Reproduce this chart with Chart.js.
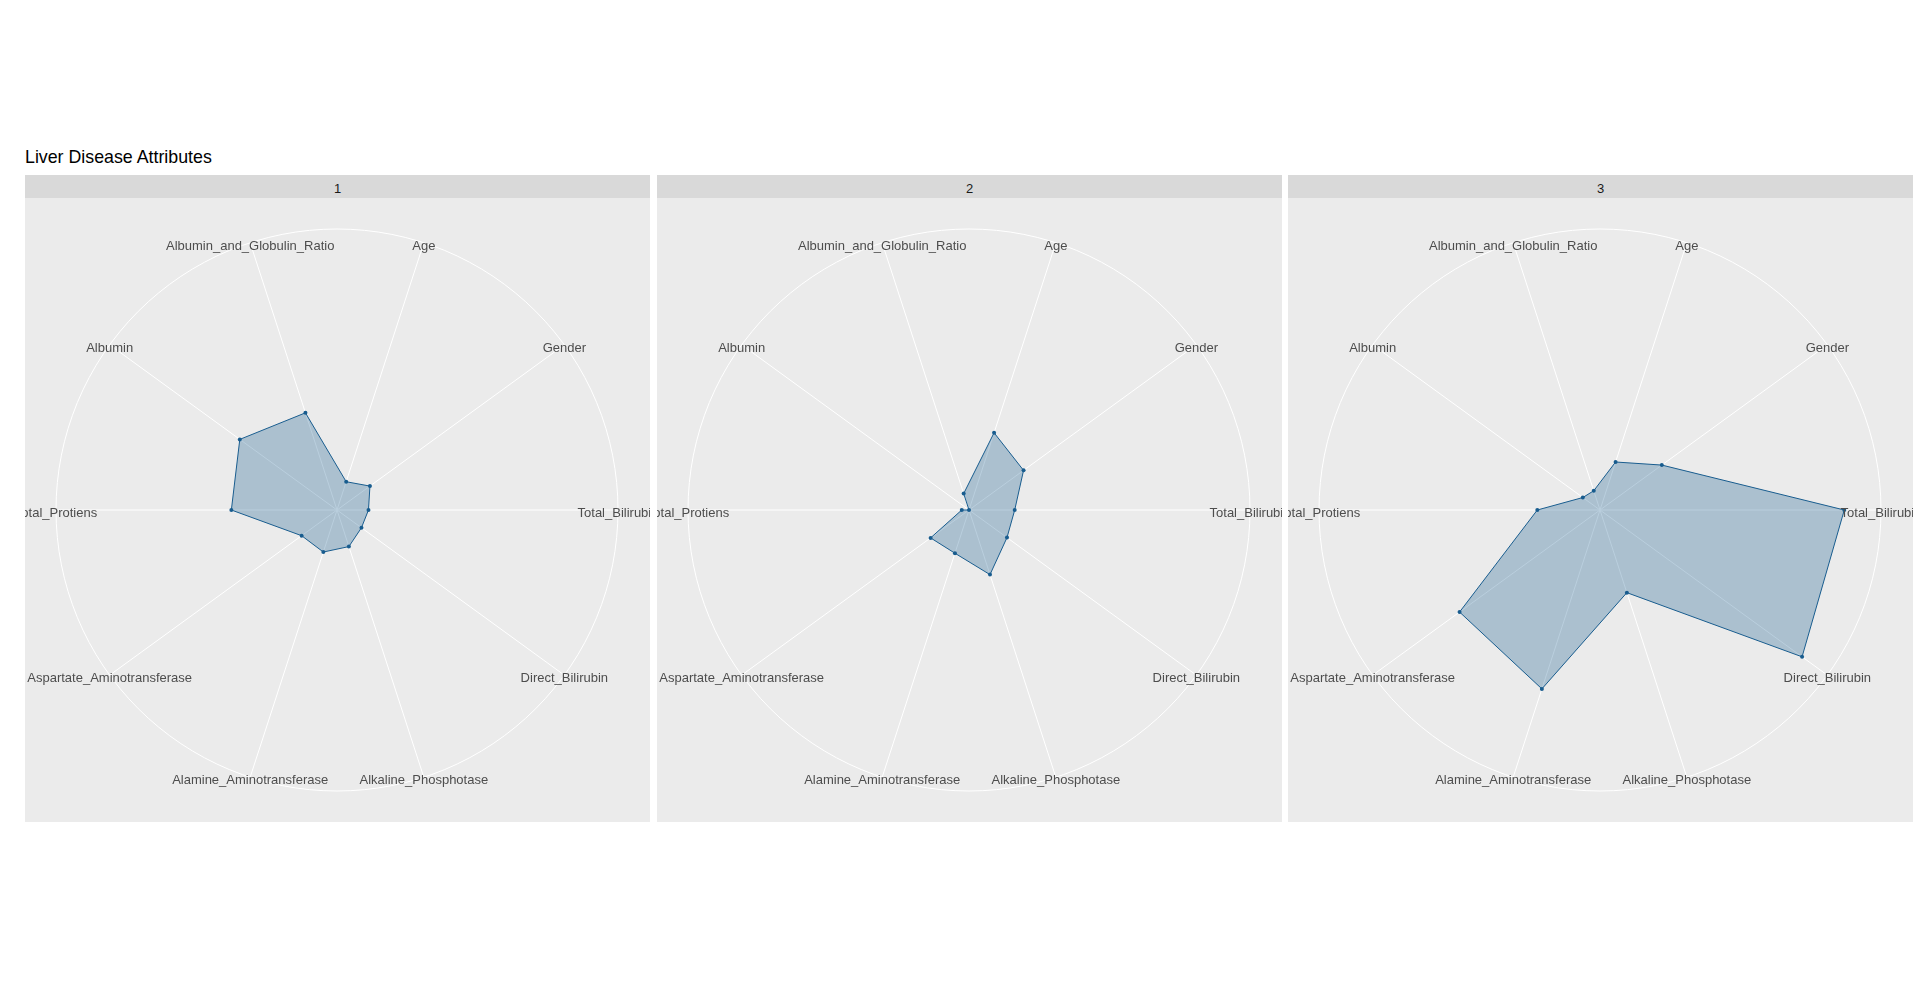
<!DOCTYPE html>
<html>
<head>
<meta charset="utf-8">
<script src="https://cdn.jsdelivr.net/npm/chart.js@4/dist/chart.umd.min.js"></script>
<style>
  html, body { margin: 0; padding: 0; background: #ffffff; }
  body { width: 1920px; height: 1001px; position: relative; overflow: hidden;
         font-family: "Liberation Sans", Arial, sans-serif; }
  #title { position: absolute; left: 25px; top: 149px; font-size: 17.8px; line-height: 17.8px;
           color: #000000; white-space: nowrap; }
  .strip { position: absolute; top: 175px; height: 23px; width: 625px; background: #D9D9D9;
           color: #1A1A1A; font-size: 13px; text-align: center; }
  .strip span { position: absolute; left: 0; right: 0; top: 7px; line-height: 13px; }
  .panel { position: absolute; top: 198px; width: 625px; height: 624px; background: #EBEBEB; overflow: hidden; }
  .panel canvas { display: block; }
</style>
</head>
<body>
<div id="title">Liver Disease Attributes</div>

<div class="strip" style="left:25px"><span>1</span></div>
<div class="strip" style="left:657px"><span>2</span></div>
<div class="strip" style="left:1288px"><span>3</span></div>

<div class="panel" style="left:25px"><canvas id="c1" width="625" height="624"></canvas></div>
<div class="panel" style="left:657px"><canvas id="c2" width="625" height="624"></canvas></div>
<div class="panel" style="left:1288px"><canvas id="c3" width="625" height="624"></canvas></div>

<script>
// ---- data (values relative to the largest value in the data) ----
const categories = [
  "Age", "Gender", "Total_Bilirubin", "Direct_Bilirubin", "Alkaline_Phosphotase",
  "Alamine_Aminotransferase", "Aspartate_Aminotransferase", "Total_Protiens",
  "Albumin", "Albumin_and_Globulin_Ratio"
];
const panelNames = ["1", "2", "3"];
const cluster1 = [0.119, 0.163, 0.126, 0.121, 0.154, 0.177, 0.175, 0.423, 0.481, 0.409];
const cluster2 = [0.325, 0.270, 0.183, 0.188, 0.272, 0.182, 0.190, 0.029, 0.000, 0.069];
const cluster3 = [0.202, 0.306, 0.978, 1.000, 0.348, 0.753, 0.695, 0.251, 0.085, 0.081];
const outerRing = 1.125;   // outer grid circle (ggplot polar: 0.45 vs data range 0.40)

const lineColor = "rgb(24,92,142)";
const fillColor = "rgba(24,92,142,0.3)";

// Draw the category labels centred on the outer ring (as ggplot coord_polar does)
const ringLabels = {
  id: "ringLabels",
  afterDatasetsDraw(chart) {
    const scale = chart.scales.r;
    const ctx = chart.ctx;
    ctx.save();
    ctx.font = "13px 'Liberation Sans', Arial, sans-serif";
    ctx.fillStyle = "#4D4D4D";
    ctx.textAlign = "center";
    ctx.textBaseline = "alphabetic";
    const labels = chart.data.labels;
    for (let i = 0; i < labels.length; i++) {
      const p = scale.getPointPosition(i, scale.drawingArea);
      ctx.fillText(labels[i], p.x, p.y + 7);
    }
    ctx.restore();
  }
};

function makeChart(id, values) {
  new Chart(document.getElementById(id), {
    type: "radar",
    data: {
      labels: categories,
      datasets: [{
        data: values,
        borderColor: lineColor,
        backgroundColor: fillColor,
        borderWidth: 1,
        fill: true,
        pointRadius: 2,
        pointBorderWidth: 0,
        pointBackgroundColor: lineColor,
        pointBorderColor: lineColor,
        tension: 0
      }]
    },
    options: {
      responsive: false,
      animation: false,
      events: [],
      layout: { padding: 31 },
      plugins: { legend: { display: false }, tooltip: { enabled: false } },
      scales: {
        r: {
          min: 0,
          max: outerRing,
          startAngle: 18,
          afterBuildTicks: (s) => { s.ticks = [{ value: 0 }, { value: outerRing }]; },
          ticks: { display: false },
          grid: { color: "#FFFFFF", lineWidth: 1, circular: true },
          angleLines: { color: "#FFFFFF", lineWidth: 1 },
          pointLabels: { display: false }
        }
      }
    },
    plugins: [ringLabels]
  });
}

makeChart("c1", cluster1);
makeChart("c2", cluster2);
makeChart("c3", cluster3);
</script>
</body>
</html>
